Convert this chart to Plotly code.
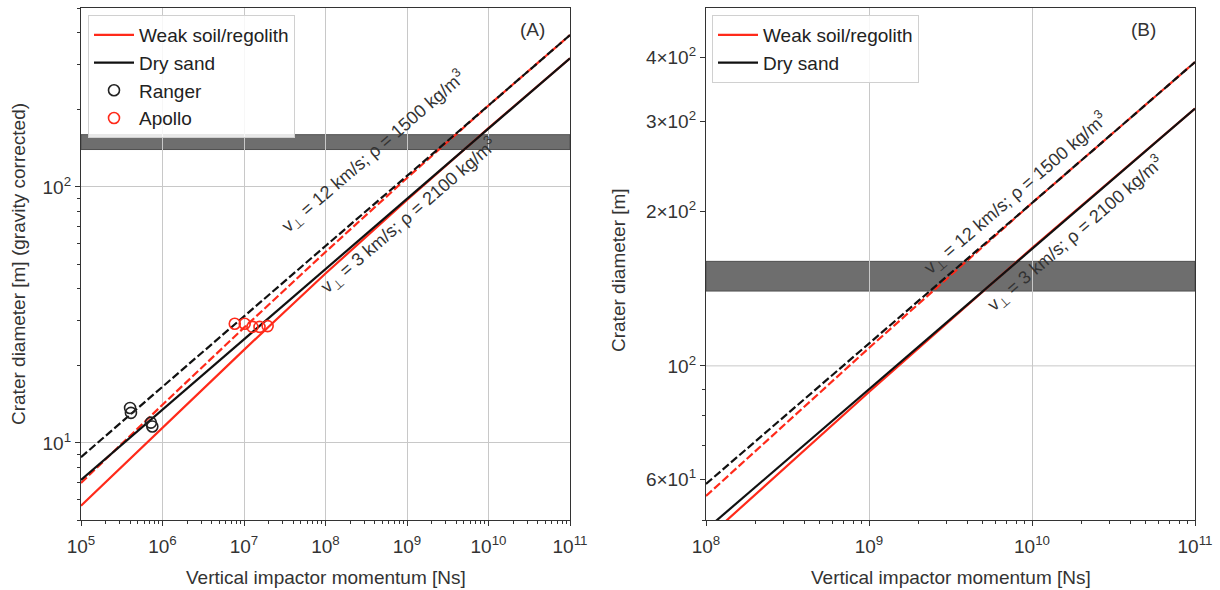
import numpy as np
import plotly.graph_objects as go

# Vertical impactor momentum at each decade [Ns]
momentum = [1e5, 1e6, 1e7, 1e8, 1e9, 1e10, 1e11]

# Crater diameter [m] predicted by the scaling laws
weak_fast = [6.98, 14.1, 28.2, 55.7, 108.4, 208, 392]     # weak soil, 12 km/s, 1500 kg/m3
weak_slow = [5.68, 11.5, 23.1, 45.9, 88.9, 169.8, 318]    # weak soil, 3 km/s, 2100 kg/m3
sand_fast = [8.8, 16.6, 31.2, 58.8, 110.4, 208, 392]      # dry sand, 12 km/s, 1500 kg/m3
sand_slow = [7.17, 13.5, 25.4, 47.9, 90.0, 169, 318]      # dry sand, 3 km/s, 2100 kg/m3

# Observed craters (gravity corrected)
ranger_p = [4.0e5, 4.1e5, 7.2e5, 7.5e5]
ranger_d = [13.7, 13.1, 12.0, 11.6]
apollo_p = [7.7e6, 1.02e7, 1.27e7, 1.55e7, 1.95e7]
apollo_d = [29.2, 29.2, 28.4, 28.4, 28.6]

# Observed crater diameter range [m]
band_lo, band_hi = 140, 160

# Tick labels
x_tick_exp = [5, 6, 7, 8, 9, 10, 11]
ya_tick_vals = [10, 100]
ya_tick_text = ["10<sup>1</sup>", "10<sup>2</sup>"]
yb_tick_vals = [60, 100, 200, 300, 400]
yb_tick_text = ["6×10<sup>1</sup>", "10<sup>2</sup>", "2×10<sup>2</sup>",
                "3×10<sup>2</sup>", "4×10<sup>2</sup>"]

label_fast = "v<sub>⊥</sub> = 12 km/s; ρ = 1500 kg/m<sup>3</sup>"
label_slow = "v<sub>⊥</sub> = 3 km/s; ρ = 2100 kg/m<sup>3</sup>"

RED = "#ff2a1a"
BLACK = "#111111"
FONT = "Liberation Sans"
W, H = 1220, 590

fig = go.Figure()

panels = [
    dict(xa="x", ya="y", leg="legend", x0=1e5, show_pts=True),
    dict(xa="x2", ya="y2", leg="legend2", x0=1e8, show_pts=False),
]

for pn in panels:
    sel = [i for i, p in enumerate(momentum) if p >= pn["x0"]]
    px = [momentum[i] for i in sel]
    common = dict(mode="lines", xaxis=pn["xa"], yaxis=pn["ya"], legend=pn["leg"])
    fig.add_trace(go.Scatter(x=px, y=[weak_fast[i] for i in sel],
                             line=dict(color=RED, width=2.2, dash="8px,3px"),
                             showlegend=False, **common))
    fig.add_trace(go.Scatter(x=px, y=[sand_fast[i] for i in sel],
                             line=dict(color=BLACK, width=2.2, dash="8px,3px"),
                             showlegend=False, **common))
    fig.add_trace(go.Scatter(x=px, y=[weak_slow[i] for i in sel], name="Weak soil/regolith",
                             line=dict(color=RED, width=2.2), **common))
    fig.add_trace(go.Scatter(x=px, y=[sand_slow[i] for i in sel], name="Dry sand",
                             line=dict(color=BLACK, width=2.2), **common))
    if pn["show_pts"]:
        fig.add_trace(go.Scatter(x=ranger_p, y=ranger_d, mode="markers", name="Ranger",
                                 marker=dict(symbol="circle-open", size=11, color="#222222",
                                             line=dict(width=1.6)),
                                 xaxis=pn["xa"], yaxis=pn["ya"], legend=pn["leg"]))
        fig.add_trace(go.Scatter(x=apollo_p, y=apollo_d, mode="markers", name="Apollo",
                                 marker=dict(symbol="circle-open", size=11, color=RED,
                                             line=dict(width=1.6)),
                                 xaxis=pn["xa"], yaxis=pn["ya"], legend=pn["leg"]))

# Observed diameter band across both panels
for xr, yr in (("x domain", "y"), ("x2 domain", "y2")):
    fig.add_shape(type="rect", xref=xr, yref=yr, x0=0, x1=1, y0=band_lo, y1=band_hi,
                  fillcolor="#6e6e6e", line=dict(color="#505050", width=1), layer="below")

# Single major gridline at 10^2 in panel B
fig.add_shape(type="line", xref="x2 domain", yref="y2", x0=0, x1=1, y0=100, y1=100,
              line=dict(color="#c8c8c8", width=1), layer="below")


def minor_vals(lo_exp, hi_exp, lo, hi):
    vals = [m * 10.0 ** e for e in range(lo_exp, hi_exp) for m in range(2, 10)]
    return [v for v in vals if lo <= v <= hi]


dom_y = [1 - 520 / H, 1 - 8 / H]
axis_common = dict(type="log", showline=True, mirror=True, linecolor="#333333", linewidth=1.2,
                   ticks="outside", ticklen=5, tickcolor="#333333", automargin=False,
                   tickfont=dict(family=FONT, size=19, color="#333333"),
                   gridcolor="#c8c8c8", gridwidth=1, zeroline=False)
minor_common = dict(ticks="outside", ticklen=3, tickcolor="#333333", showgrid=False)

x_vals = [10.0 ** e for e in x_tick_exp]
x_text = [f"10<sup>{e}</sup>" for e in x_tick_exp]

fig.update_layout(
    xaxis=dict(domain=[81 / W, 570 / W], range=[5, 11], tickvals=x_vals, ticktext=x_text,
               ticklabelstandoff=4,
               minor=dict(tickvals=minor_vals(5, 11, 1e5, 1e11), **minor_common),
               anchor="y", **axis_common),
    yaxis=dict(domain=dom_y, range=[np.log10(5), np.log10(500)],
               tickvals=ya_tick_vals, ticktext=ya_tick_text,
               minor=dict(tickvals=minor_vals(0, 3, 5, 500), **minor_common),
               anchor="x", **axis_common),
    xaxis2=dict(domain=[706 / W, 1195 / W], range=[8, 11],
                tickvals=x_vals[3:], ticktext=x_text[3:], ticklabelstandoff=4,
                minor=dict(tickvals=minor_vals(8, 11, 1e8, 1e11), **minor_common),
                anchor="y2", **axis_common),
    yaxis2=dict(domain=dom_y, range=[np.log10(50), np.log10(500)],
                tickvals=yb_tick_vals, ticktext=yb_tick_text,
                minor=dict(tickvals=[50, 70, 80, 90], **minor_common),
                anchor="x2", **{**axis_common, "showgrid": False}),
)

legend_common = dict(bgcolor="rgba(255,255,255,0.85)", bordercolor="#d0d0d0", borderwidth=1,
                     font=dict(family=FONT, size=19, color="#222222"),
                     xanchor="left", yanchor="top", tracegroupgap=0, itemwidth=40)
fig.update_layout(
    legend=dict(x=88 / W, y=1 - 15 / H, **legend_common),
    legend2=dict(x=712 / W, y=1 - 15 / H, **legend_common),
)


# Rotated labels along the scaling lines
def on_line(values, logp):
    return float(np.interp(logp, np.log10(momentum), np.log10(values)))


theta = np.degrees(np.arctan(0.863))
s, c = np.sin(np.radians(theta)), np.cos(np.radians(theta))
ann = []
# (x axis, y axis, position along dashed line, offset, position along solid line, offset)
for xa, ya, lp_fast, d_fast, lp_slow, d_slow in (("x", "y", 8.91, 40, 8.91, 14),
                                                  ("x2", "y2", 9.97, 18, 10.2, 17)):
    ann.append(dict(x=lp_fast, y=on_line(sand_fast, lp_fast), xref=xa, yref=ya,
                    text=label_fast, showarrow=False, textangle=-theta,
                    xanchor="center", yanchor="middle",
                    xshift=-d_fast * s, yshift=d_fast * c,
                    font=dict(family=FONT, size=18, color="#333333")))
    ann.append(dict(x=lp_slow, y=on_line(sand_slow, lp_slow), xref=xa, yref=ya,
                    text=label_slow, showarrow=False, textangle=-theta,
                    xanchor="center", yanchor="middle",
                    xshift=d_slow * s, yshift=-d_slow * c,
                    font=dict(family=FONT, size=18, color="#333333")))

title_font = dict(family=FONT, size=19, color="#333333")
paper_txt = dict(xref="paper", yref="paper", showarrow=False, xanchor="center",
                 yanchor="middle", font=title_font)
ann += [
    dict(x=532 / W, y=1 - 30 / H, text="(A)", **paper_txt),
    dict(x=1143 / W, y=1 - 30 / H, text="(B)", **paper_txt),
    dict(x=18 / W, y=1 - 264 / H, textangle=-90,
         text="Crater diameter [m] (gravity corrected)", **paper_txt),
    dict(x=618 / W, y=1 - 270 / H, textangle=-90, text="Crater diameter [m]", **paper_txt),
    dict(x=325.5 / W, y=1 - 577 / H, text="Vertical impactor momentum [Ns]", **paper_txt),
    dict(x=950.5 / W, y=1 - 577 / H, text="Vertical impactor momentum [Ns]", **paper_txt),
]
fig.update_layout(annotations=ann, width=W, height=H, margin=dict(l=0, r=0, t=0, b=0),
                  plot_bgcolor="white", paper_bgcolor="white")

fig.write_html("out.html")
